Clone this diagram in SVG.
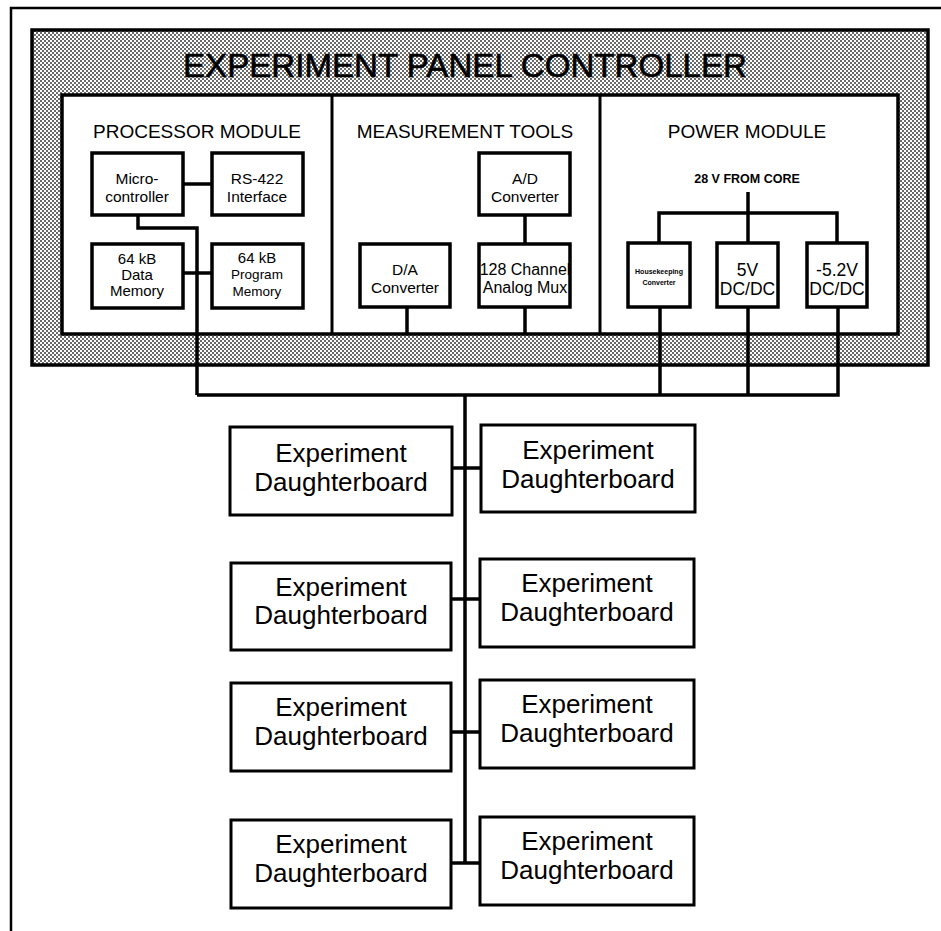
<svg xmlns="http://www.w3.org/2000/svg" width="941" height="931" viewBox="0 0 941 931">
<defs>
<pattern id="dots" width="4" height="4" patternUnits="userSpaceOnUse">
<rect width="4" height="4" fill="#ffffff"/>
<rect x="0" y="0" width="2" height="2" fill="#6a6a6a"/>
<rect x="2" y="2" width="2" height="2" fill="#6a6a6a"/>
</pattern>
</defs>
<style>
.box{fill:#fff;stroke:#000;stroke-width:3.5}
.db{fill:#fff;stroke:#000;stroke-width:3}
.t{font-family:"Liberation Sans",Arial,sans-serif;fill:#000;text-anchor:middle}
.s{font-size:15.5px}
.h{font-size:19px}
.d{font-size:26px}
.w{fill:none;stroke:#000;stroke-width:3.5}
</style>
<rect width="941" height="931" fill="#fff"/>
<g id="frame">
<path d="M11,931 V8 H941" fill="none" stroke="#000" stroke-width="2.5"/>
</g>
<g id="controller">
<rect x="32" y="30" width="896" height="335" fill="url(#dots)" stroke="#000" stroke-width="3.5"/>
<text x="465" y="77" class="t" font-size="34" textLength="564" lengthAdjust="spacingAndGlyphs" stroke="#000" stroke-width="0.6">EXPERIMENT PANEL CONTROLLER</text>
<rect x="62" y="95" width="836" height="239" fill="#fff" stroke="#000" stroke-width="3.5"/>
<line x1="332" y1="95" x2="332" y2="334" stroke="#000" stroke-width="3"/>
<line x1="600" y1="95" x2="600" y2="334" stroke="#000" stroke-width="3"/>
<text x="197" y="138" class="t h">PROCESSOR MODULE</text>
<text x="465" y="138" class="t h">MEASUREMENT TOOLS</text>
<text x="747" y="138" class="t h">POWER MODULE</text>
<text x="747" y="183" class="t" font-size="12.5" font-weight="bold">28 V FROM CORE</text>
</g>
<g id="connectors">
<line x1="183" y1="184" x2="212" y2="184" class="w"/>
<polyline points="138,215 138,228 197,228 197,395" class="w"/>
<line x1="183" y1="273" x2="212" y2="273" class="w"/>
<line x1="525" y1="215" x2="525" y2="244" class="w"/>
<line x1="407" y1="307" x2="407" y2="334" class="w"/>
<line x1="525" y1="307" x2="525" y2="334" class="w"/>
<line x1="748" y1="192" x2="748" y2="243" class="w"/>
<polyline points="659,243 659,213 837,213 837,243" class="w"/>
<line x1="660" y1="307" x2="660" y2="395" class="w"/>
<line x1="748" y1="307" x2="748" y2="395" class="w"/>
<polyline points="197,395 838,395 838,307" class="w"/>
<line x1="465" y1="395" x2="465" y2="863" class="w"/>
<line x1="452" y1="468" x2="481" y2="468" class="w"/>
<line x1="451" y1="599" x2="480" y2="599" class="w"/>
<line x1="451" y1="732" x2="480" y2="732" class="w"/>
<line x1="451" y1="863" x2="480" y2="863" class="w"/>
</g>
<g id="microcontroller">
<rect x="92" y="153" width="91" height="62" class="box"/>
<text x="137" y="184" class="t s">Micro-</text>
<text x="137" y="202" class="t s">controller</text>
</g>
<g id="rs422">
<rect x="212" y="153" width="91" height="62" class="box"/>
<text x="257" y="184" class="t s">RS-422</text>
<text x="257" y="202" class="t s">Interface</text>
</g>
<g id="data-memory">
<rect x="92" y="244" width="91" height="64" class="box"/>
<text x="137" y="264" class="t" font-size="15">64 kB</text>
<text x="137" y="280" class="t" font-size="15">Data</text>
<text x="137" y="296" class="t" font-size="15">Memory</text>
</g>
<g id="program-memory">
<rect x="212" y="244" width="91" height="64" class="box"/>
<text x="257" y="263" class="t" font-size="15">64 kB</text>
<text x="257" y="279" class="t" font-size="13.5">Program</text>
<text x="257" y="296" class="t" font-size="13.5">Memory</text>
</g>
<g id="ad-converter">
<rect x="479" y="153" width="91" height="62" class="box"/>
<text x="525" y="184" class="t s">A/D</text>
<text x="525" y="202" class="t s">Converter</text>
</g>
<g id="da-converter">
<rect x="360" y="244" width="90" height="63" class="box"/>
<text x="405" y="275" class="t s">D/A</text>
<text x="405" y="293" class="t s">Converter</text>
</g>
<g id="analog-mux">
<rect x="479" y="244" width="91" height="63" class="box"/>
<text x="525" y="275" class="t" font-size="16">128 Channel</text>
<text x="525" y="293" class="t" font-size="16">Analog Mux</text>
</g>
<g id="housekeeping">
<rect x="628" y="243" width="62" height="64" class="box"/>
<text x="659" y="274" class="t" font-size="7" font-weight="bold">Housekeeping</text>
<text x="659" y="285" class="t" font-size="7" font-weight="bold">Converter</text>
</g>
<g id="dc5v">
<rect x="717" y="243" width="61" height="64" class="box"/>
<text x="747.5" y="276" class="t" font-size="17.5">5V</text>
<text x="747.5" y="295" class="t" font-size="17.5">DC/DC</text>
</g>
<g id="dcm52v">
<rect x="807" y="243" width="60" height="64" class="box"/>
<text x="837" y="276" class="t" font-size="17.5">-5.2V</text>
<text x="837" y="295" class="t" font-size="17.5">DC/DC</text>
</g>
<g id="db1l">
<rect x="230" y="427" width="222" height="88" class="db"/>
<text x="341" y="462" class="t d">Experiment</text>
<text x="341" y="491" class="t d">Daughterboard</text>
</g>
<g id="db1r">
<rect x="481" y="425" width="214" height="87" class="db"/>
<text x="588" y="459" class="t d">Experiment</text>
<text x="588" y="488" class="t d">Daughterboard</text>
</g>
<g id="db2l">
<rect x="231" y="563" width="220" height="87" class="db"/>
<text x="341" y="596" class="t d">Experiment</text>
<text x="341" y="624" class="t d">Daughterboard</text>
</g>
<g id="db2r">
<rect x="480" y="559" width="214" height="88" class="db"/>
<text x="587" y="592" class="t d">Experiment</text>
<text x="587" y="621" class="t d">Daughterboard</text>
</g>
<g id="db3l">
<rect x="231" y="683" width="220" height="88" class="db"/>
<text x="341" y="716" class="t d">Experiment</text>
<text x="341" y="745" class="t d">Daughterboard</text>
</g>
<g id="db3r">
<rect x="480" y="680" width="214" height="88" class="db"/>
<text x="587" y="713" class="t d">Experiment</text>
<text x="587" y="742" class="t d">Daughterboard</text>
</g>
<g id="db4l">
<rect x="231" y="820" width="220" height="88" class="db"/>
<text x="341" y="853" class="t d">Experiment</text>
<text x="341" y="882" class="t d">Daughterboard</text>
</g>
<g id="db4r">
<rect x="480" y="817" width="214" height="88" class="db"/>
<text x="587" y="850" class="t d">Experiment</text>
<text x="587" y="879" class="t d">Daughterboard</text>
</g>
</svg>
